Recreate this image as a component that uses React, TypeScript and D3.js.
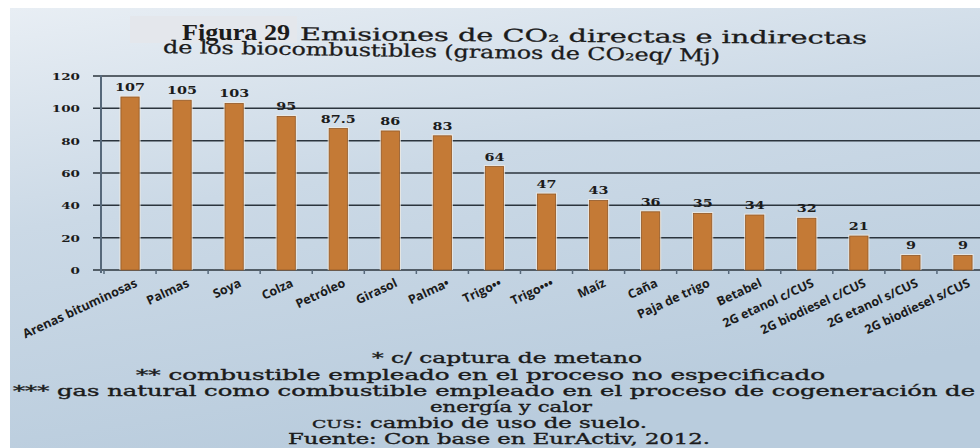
import React from 'react';
import * as d3 from 'd3';

const categories = [
  'Arenas bituminosas', 'Palmas', 'Soya', 'Colza', 'Petróleo', 'Girasol', 'Palma•', 'Trigo••', 'Trigo•••',
  'Maíz', 'Caña', 'Paja de trigo', 'Betabel', '2G etanol c/CUS', '2G biodiesel c/CUS', '2G etanol s/CUS', '2G biodiesel s/CUS',
];
const values = [107, 105, 103, 95, 87.5, 86, 83, 64, 47, 43, 36, 35, 34, 32, 21, 9, 9];
const valueLabels = ['107', '105', '103', '95', '87.5', '86', '83', '64', '47', '43', '36', '35', '34', '32', '21', '9', '9'];
const yTicks = [0, 20, 40, 60, 80, 100, 120];
const yTickLabels = ['0', '20', '40', '60', '80', '100', '120'];
const titleLabel = 'Figura 29';
const titleLine1 = 'Emisiones de CO₂ directas e indirectas';
const titleLine2 = 'de los biocombustibles (gramos de CO₂eq/ Mj)';
const footnotes = [
  '* c/ captura de metano',
  '** combustible empleado en el proceso no especificado',
  '*** gas natural como combustible empleado en el proceso de cogeneración de',
  'energía y calor',
  'CUS: cambio de uso de suelo.',
  'Fuente: Con base en EurActiv, 2012.',
];

// layout (not data)
const W = 980;
const H = 448;
const footLayout = [
  { x: 372, w: 270, y: 363 },
  { x: 136, w: 689, y: 380 },
  { x: 13, w: 962, y: 396 },
  { x: 430, w: 162, y: 412 },
  { x: 312, w: 335, y: 428 },
  { x: 288, w: 422, y: 444 },
];

export default function App() {
  const x = d3.scaleBand<string>().domain(categories).range([104, 989]).paddingInner(0.65).paddingOuter(0.325);
  const y = d3.scaleLinear().domain([0, 120]).range([270, 76]);
  const step = x.step();
  const bw = x.bandwidth();
  const y0 = y(0);
  const serif = '"DejaVu Serif", serif';
  const ink = '#1b1b1b';

  return (
    <svg width={W} height={H} style={{ position: 'absolute', left: 0, top: 0, display: 'block' }}>
      <defs>
        <linearGradient id="paper" x1="0" y1="0" x2="0.35" y2="1">
          <stop offset="0" stopColor="#e8eef4" />
          <stop offset="0.45" stopColor="#cbd9e6" />
          <stop offset="1" stopColor="#b9ccdd" />
        </linearGradient>
      </defs>
      <rect x={0} y={0} width={W} height={H} fill="#ffffff" />
      <rect x={10} y={8} width={W - 10} height={H - 8} fill="url(#paper)" />

      {/* title */}
      <rect x={130} y={16} width={167} height={27} fill="#e4e7ec" />
      <text x={182} y={40} fontFamily='"Liberation Serif", serif' fontWeight="bold" fontSize={24} fill={ink} textLength={108} lengthAdjust="spacingAndGlyphs">
        {titleLabel}
      </text>
      <text x={300} y={40} fontFamily={serif} fontSize={17.5} fill={ink} stroke={ink} strokeWidth={0.3} textLength={567} lengthAdjust="spacingAndGlyphs" transform="rotate(0.4 300 40)">
        {titleLine1}
      </text>
      <text x={163} y={53} fontFamily={serif} fontSize={17.5} fill={ink} stroke={ink} strokeWidth={0.3} textLength={557} lengthAdjust="spacingAndGlyphs" transform="rotate(0.9 163 53)">
        {titleLine2}
      </text>

      {/* grid */}
      {yTicks.map((t, i) => (
        <g key={'g' + t}>
          <line x1={93} x2={W} y1={y(t)} y2={y(t)} stroke="#2b343d" strokeWidth={1.5} />
          <text
            transform={`translate(80,${y(t) + 4}) scale(1.35,1)`}
            textAnchor="end"
            fontFamily={serif}
            fontWeight="bold"
            fontSize={10}
            fill={ink}
          >
            {yTickLabels[i]}
          </text>
        </g>
      ))}
      <line x1={101} x2={101} y1={y(120) - 1} y2={y0 + 3} stroke="#56687a" strokeWidth={2} />
      {d3.range(categories.length + 1).map((i) => {
        const tx = 104 + step * 0.325 - (step * 0.65) / 2 + i * step;
        return <line key={'t' + i} x1={tx} x2={tx} y1={y0} y2={y0 + 4} stroke="#56687a" strokeWidth={1.5} />;
      })}

      {/* bars */}
      {categories.map((c, i) => {
        const bx = x(c) as number;
        const by = y(values[i]);
        return (
          <g key={c}>
            <rect x={bx - 1.5} y={by - 1.5} width={bw + 3} height={y0 - by + 1.5} fill="#f1ebe2" opacity={0.75} />
            <rect x={bx} y={by} width={bw} height={y0 - by} fill="#c47a36" stroke="#925826" strokeWidth={0.8} />
            <text
              transform={`translate(${bx + bw / 2},${by - 6}) scale(1.25,1)`}
              textAnchor="middle"
              fontFamily={serif}
              fontWeight="bold"
              fontSize={11.5}
              fill={ink}
            >
              {valueLabels[i]}
            </text>
            <text
              transform={`translate(${bx + bw / 2 + 8},${y0 + 16}) rotate(-25)`}
              textAnchor="end"
              fontFamily='"Open Sans", sans-serif'
              fontWeight="bold"
              fontSize={12.5}
              fill={ink}
            >
              {c}
            </text>
          </g>
        );
      })}

      {/* footnotes */}
      {footnotes.map((f, i) => {
        const L = footLayout[i];
        return (
          <text key={'f' + i} x={L.x} y={L.y} fontFamily={serif} fontSize={14} fill={ink} stroke={ink} strokeWidth={0.35} textLength={L.w} lengthAdjust="spacingAndGlyphs">
            {f.startsWith('CUS') ? (
              <>
                <tspan fontSize={11.5}>CUS</tspan>
                {f.slice(3)}
              </>
            ) : (
              f
            )}
          </text>
        );
      })}
    </svg>
  );
}
